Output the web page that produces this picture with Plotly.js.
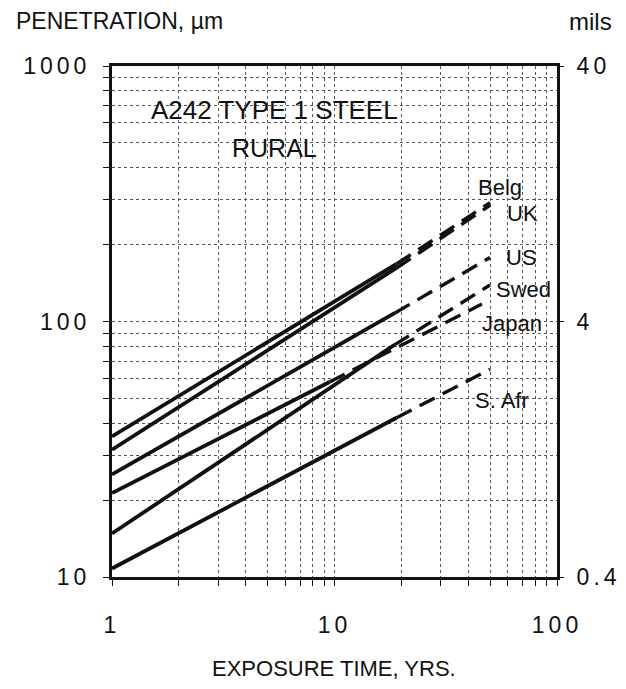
<!DOCTYPE html>
<html>
<head>
<meta charset="utf-8">
<script src="https://cdn.plot.ly/plotly-3.0.1.min.js"></script>
<style>
body{margin:0;padding:0;background:#fff;}
.xtick text,.ytick text,.y2tick text{letter-spacing:4px;}
</style>
</head>
<body>
<div id="chart" style="width:626px;height:689px;"></div>
<script>
// Countries
var countries = ['Belg', 'UK', 'US', 'Swed', 'Japan', 'S. Afr'];
// Measured (solid) portion: exposure years and penetration (µm)
var solidYears = [[1, 19], [1, 19], [1, 18.7], [1, 18.6], [1, 9.5], [1, 19]];
var solidPen   = [[35.5, 168], [31.5, 162], [25.2, 108], [14.8, 81], [21.3, 58], [10.8, 42]];
// Extrapolated (dashed) portion
var dashYears = [[19, 50], [19, 50], [18.7, 50], [18.6, 50], [9.5, 46], [19, 50]];
var dashPen   = [[168, 292], [162, 285], [108, 178], [81, 139], [58, 117], [42, 65]];
// Axis ticks
var xGrid = [1,2,3,4,5,6,7,8,9,10,20,30,40,50,60,70,80,90,100];
var xLabels = ['1','','','','','','','','','10','','','','','','','','','100'];
var yGrid = [10,20,30,40,50,60,70,80,90,100,200,300,400,500,600,700,800,900,1000];
var yLabels = ['10','','','','','','','','','100','','','','','','','','','1000'];
var milsVals = [10, 100, 1000];
var milsLabels = ['0.4', '4', '40'];

var traces = [];
for (var i = 0; i < countries.length; i++) {
  traces.push({x: solidYears[i], y: solidPen[i], mode: 'lines', name: countries[i],
    line: {color: '#111', width: 3.8}, showlegend: false, hoverinfo: 'skip'});
  traces.push({x: dashYears[i], y: dashPen[i], mode: 'lines', name: countries[i] + ' (extrap.)',
    line: {color: '#111', width: 3.4, dash: '17px,9px'}, showlegend: false, hoverinfo: 'skip'});
}
// invisible trace to carry the mils axis
traces.push({x: [1, 100], y: [10, 1000], yaxis: 'y2', mode: 'lines', opacity: 0,
  line: {width: 0}, showlegend: false, hoverinfo: 'skip'});

var L = 112, R = 557, T = 66, B = 577;
function px(x) { return (x - L) / (R - L); }
function py(y) { return (B - y) / (B - T); }
var F = 'Liberation Sans, Arial, sans-serif';

var labelPos = [[500,187],[522,213],[521,257],[523,289],[512,323],[502,400]];
var ann = [];
for (var j = 0; j < countries.length; j++) {
  ann.push({text: countries[j], xref: 'paper', yref: 'paper', x: px(labelPos[j][0]), y: py(labelPos[j][1]),
    xanchor: 'center', yanchor: 'middle',
    showarrow: false, font: {family: F, size: 22, color: '#111'}});
}
function addText(t, x, y, size, xa) {
  ann.push({text: t, xref: 'paper', yref: 'paper', x: px(x), y: py(y), xanchor: xa || 'center', yanchor: 'middle',
    showarrow: false, font: {family: F, size: size, color: '#111'}});
}
addText('A242 TYPE 1 STEEL', 274, 110, 26);
addText('RURAL', 274, 148, 25);
addText('PENETRATION, µm', 14, 21, 23, 'left');
addText('mils', 567, 21, 24, 'left');
addText('EXPOSURE TIME, YRS.', 334, 668, 22);

var layout = {
  width: 626, height: 689,
  margin: {l: L, r: 626 - R, t: T, b: 689 - B, pad: 0},
  paper_bgcolor: '#fff', plot_bgcolor: '#fff',
  showlegend: false,
  xaxis: {type: 'log', range: [0, 2], tickmode: 'array', tickvals: xGrid, ticktext: xLabels,
    showgrid: true, gridcolor: '#555', gridwidth: 1, griddash: 'dot',
    showline: true, linecolor: '#111', linewidth: 3, mirror: true,
    ticks: 'outside', ticklen: 6, tickcolor: '#111', tickwidth: 1,
    ticklabelstandoff: 19, tickfont: {family: F, size: 23, color: '#111'}, zeroline: false},
  yaxis: {type: 'log', range: [1, 3], tickmode: 'array', tickvals: yGrid, ticktext: yLabels,
    showgrid: true, gridcolor: '#555', gridwidth: 1, griddash: 'dot',
    showline: true, linecolor: '#111', linewidth: 3, mirror: true,
    ticks: 'outside', ticklen: 6, tickcolor: '#111', tickwidth: 1,
    ticklabelstandoff: 8, tickfont: {family: F, size: 23, color: '#111'}, zeroline: false},
  yaxis2: {type: 'log', range: [1, 3], overlaying: 'y', side: 'right', tickmode: 'array',
    tickvals: milsVals, ticktext: milsLabels, showgrid: false, showline: false,
    ticks: 'outside', ticklen: 6, tickcolor: '#111', tickwidth: 1,
    ticklabelstandoff: 8, tickfont: {family: F, size: 23, color: '#111'}, zeroline: false},
  annotations: ann
};

Plotly.newPlot('chart', traces, layout, {displayModeBar: false, staticPlot: true});
</script>
</body>
</html>
